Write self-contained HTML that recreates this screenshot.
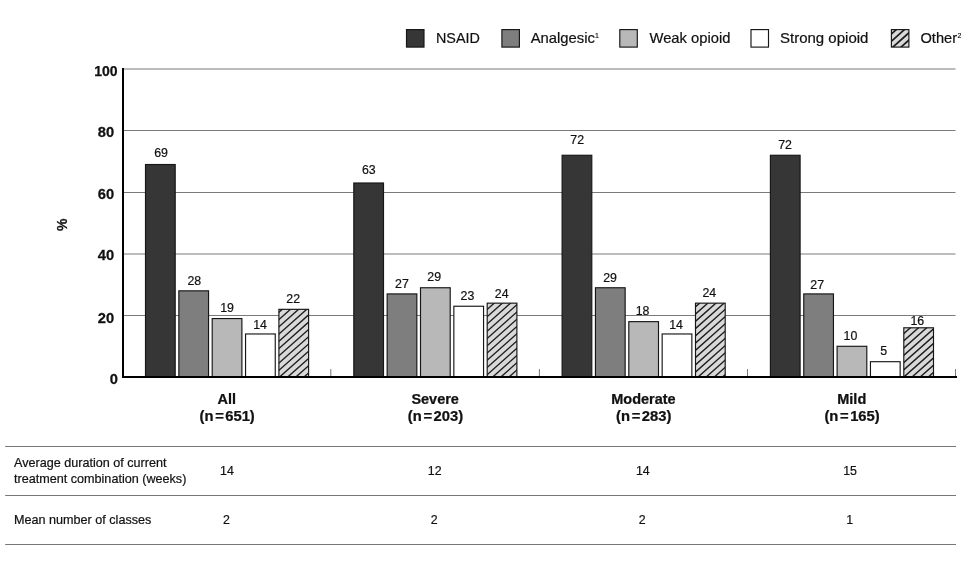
<!DOCTYPE html>
<html lang="en"><head><meta charset="utf-8"><title>Treatment by severity</title>
<style>
html,body{margin:0;padding:0;background:#fff;}
body{width:975px;height:574px;overflow:hidden;font-family:"Liberation Sans",sans-serif;}
svg{display:block}
text{font-family:"Liberation Sans",sans-serif;fill:#111}
.b{font-weight:bold;font-size:14px;stroke:#111;stroke-width:0.25px}
.v{font-size:12px;stroke:#111;stroke-width:0.2px}
.t{font-size:12px;stroke:#111;stroke-width:0.2px}
.l{font-size:14px;stroke:#111;stroke-width:0.2px}
.s{font-size:7px;stroke:#111;stroke-width:0.15px}
</style></head><body>
<svg width="975" height="574" viewBox="0 0 975 574">

<rect width="975" height="574" fill="#fff"/>

<line x1="123" x2="955.5" y1="315.5" y2="315.5" stroke="#7a7a7a" stroke-width="1"/>
<line x1="123" x2="955.5" y1="254.0" y2="254.0" stroke="#7a7a7a" stroke-width="1"/>
<line x1="123" x2="955.5" y1="192.5" y2="192.5" stroke="#7a7a7a" stroke-width="1"/>
<line x1="123" x2="955.5" y1="130.5" y2="130.5" stroke="#7a7a7a" stroke-width="1"/>
<line x1="123" x2="955.5" y1="69.0" y2="69.0" stroke="#7a7a7a" stroke-width="1"/>
<line x1="330.8" x2="330.8" y1="369" y2="376" stroke="#555" stroke-width="0.8"/>
<line x1="539.4" x2="539.4" y1="369" y2="376" stroke="#555" stroke-width="0.8"/>
<line x1="747.5" x2="747.5" y1="369" y2="376" stroke="#555" stroke-width="0.8"/>
<line x1="955.5" x2="955.5" y1="369" y2="376" stroke="#555" stroke-width="0.8"/>
<rect x="145.50" y="164.51" width="29.70" height="212.59" fill="#363636" stroke="#161616" stroke-width="1.15"/>
<text class="v" text-anchor="middle" transform="translate(161.00,157.40) scale(1.03,1)">69</text>
<rect x="178.85" y="290.83" width="29.70" height="86.27" fill="#7e7e7e" stroke="#161616" stroke-width="1.15"/>
<text class="v" text-anchor="middle" transform="translate(194.25,284.80) scale(1.03,1)">28</text>
<rect x="212.20" y="318.56" width="29.70" height="58.54" fill="#b8b8b8" stroke="#161616" stroke-width="1.15"/>
<text class="v" text-anchor="middle" transform="translate(227.00,312.10) scale(1.03,1)">19</text>
<rect x="245.55" y="333.97" width="29.70" height="43.13" fill="#ffffff" stroke="#161616" stroke-width="1.15"/>
<text class="v" text-anchor="middle" transform="translate(260.10,328.50) scale(1.03,1)">14</text>
<clipPath id="c1"><rect x="278.90" y="309.32" width="29.70" height="67.78"/></clipPath>
<rect x="278.90" y="309.32" width="29.70" height="67.78" fill="#d9d9d9"/>
<path clip-path="url(#c1)" d="M268.44,307.14L187.36,379.28M276.59,307.14L195.51,379.28M284.74,307.14L203.66,379.28M292.89,307.14L211.81,379.28M301.04,307.14L219.96,379.28M309.19,307.14L228.11,379.28M317.34,307.14L236.26,379.28M325.49,307.14L244.41,379.28M333.64,307.14L252.56,379.28M341.79,307.14L260.71,379.28M349.94,307.14L268.86,379.28M358.09,307.14L277.01,379.28M366.24,307.14L285.16,379.28M374.39,307.14L293.31,379.28M382.54,307.14L301.46,379.28M390.69,307.14L309.61,379.28M398.84,307.14L317.76,379.28" stroke="#1e1e1e" stroke-width="1.4" fill="none"/>
<rect x="278.90" y="309.32" width="29.70" height="67.78" fill="none" stroke="#161616" stroke-width="1.15"/>
<text class="v" text-anchor="middle" transform="translate(293.20,302.70) scale(1.03,1)">22</text>
<text class="b" text-anchor="middle" transform="translate(226.85,404.00) scale(1.035,1)">All</text>
<text class="b" text-anchor="middle" transform="translate(227.15,421.10) scale(1.055,1)">(n<tspan dx="1.6">=</tspan><tspan dx="1.4">651)</tspan></text>
<text class="t" text-anchor="middle" transform="translate(226.90,474.80) scale(1.03,1)">14</text>
<text class="t" text-anchor="middle" transform="translate(226.50,524.10) scale(1.03,1)">2</text>
<rect x="353.80" y="183.00" width="29.70" height="194.10" fill="#363636" stroke="#161616" stroke-width="1.15"/>
<text class="v" text-anchor="middle" transform="translate(368.80,173.70) scale(1.03,1)">63</text>
<rect x="387.15" y="293.91" width="29.70" height="83.19" fill="#7e7e7e" stroke="#161616" stroke-width="1.15"/>
<text class="v" text-anchor="middle" transform="translate(401.90,287.50) scale(1.03,1)">27</text>
<rect x="420.50" y="287.75" width="29.70" height="89.35" fill="#b8b8b8" stroke="#161616" stroke-width="1.15"/>
<text class="v" text-anchor="middle" transform="translate(434.20,280.70) scale(1.03,1)">29</text>
<rect x="453.85" y="306.24" width="29.70" height="70.86" fill="#ffffff" stroke="#161616" stroke-width="1.15"/>
<text class="v" text-anchor="middle" transform="translate(467.40,300.10) scale(1.03,1)">23</text>
<clipPath id="c2"><rect x="487.20" y="303.16" width="29.70" height="73.94"/></clipPath>
<rect x="487.20" y="303.16" width="29.70" height="73.94" fill="#d9d9d9"/>
<path clip-path="url(#c2)" d="M480.35,300.98L392.33,379.28M488.50,300.98L400.48,379.28M496.65,300.98L408.63,379.28M504.80,300.98L416.78,379.28M512.95,300.98L424.93,379.28M521.10,300.98L433.08,379.28M529.25,300.98L441.23,379.28M537.40,300.98L449.38,379.28M545.55,300.98L457.53,379.28M553.70,300.98L465.68,379.28M561.85,300.98L473.83,379.28M570.00,300.98L481.98,379.28M578.15,300.98L490.13,379.28M586.30,300.98L498.28,379.28M594.45,300.98L506.43,379.28M602.60,300.98L514.58,379.28M610.75,300.98L522.73,379.28" stroke="#1e1e1e" stroke-width="1.4" fill="none"/>
<rect x="487.20" y="303.16" width="29.70" height="73.94" fill="none" stroke="#161616" stroke-width="1.15"/>
<text class="v" text-anchor="middle" transform="translate(501.65,297.90) scale(1.03,1)">24</text>
<text class="b" text-anchor="middle" transform="translate(435.15,404.00) scale(1.035,1)">Severe</text>
<text class="b" text-anchor="middle" transform="translate(435.45,421.10) scale(1.055,1)">(n<tspan dx="1.6">=</tspan><tspan dx="1.4">203)</tspan></text>
<text class="t" text-anchor="middle" transform="translate(434.65,474.80) scale(1.03,1)">12</text>
<text class="t" text-anchor="middle" transform="translate(434.20,524.10) scale(1.03,1)">2</text>
<rect x="562.10" y="155.27" width="29.70" height="221.83" fill="#363636" stroke="#161616" stroke-width="1.15"/>
<text class="v" text-anchor="middle" transform="translate(577.20,143.70) scale(1.03,1)">72</text>
<rect x="595.45" y="287.75" width="29.70" height="89.35" fill="#7e7e7e" stroke="#161616" stroke-width="1.15"/>
<text class="v" text-anchor="middle" transform="translate(610.00,281.60) scale(1.03,1)">29</text>
<rect x="628.80" y="321.64" width="29.70" height="55.46" fill="#b8b8b8" stroke="#161616" stroke-width="1.15"/>
<text class="v" text-anchor="middle" transform="translate(642.50,314.90) scale(1.03,1)">18</text>
<rect x="662.15" y="333.97" width="29.70" height="43.13" fill="#ffffff" stroke="#161616" stroke-width="1.15"/>
<text class="v" text-anchor="middle" transform="translate(676.10,328.50) scale(1.03,1)">14</text>
<clipPath id="c3"><rect x="695.50" y="303.16" width="29.70" height="73.94"/></clipPath>
<rect x="695.50" y="303.16" width="29.70" height="73.94" fill="#d9d9d9"/>
<path clip-path="url(#c3)" d="M685.75,300.98L597.73,379.28M693.90,300.98L605.88,379.28M702.05,300.98L614.03,379.28M710.20,300.98L622.18,379.28M718.35,300.98L630.33,379.28M726.50,300.98L638.48,379.28M734.65,300.98L646.63,379.28M742.80,300.98L654.78,379.28M750.95,300.98L662.93,379.28M759.10,300.98L671.08,379.28M767.25,300.98L679.23,379.28M775.40,300.98L687.38,379.28M783.55,300.98L695.53,379.28M791.70,300.98L703.68,379.28M799.85,300.98L711.83,379.28M808.00,300.98L719.98,379.28M816.15,300.98L728.13,379.28M824.30,300.98L736.28,379.28" stroke="#1e1e1e" stroke-width="1.4" fill="none"/>
<rect x="695.50" y="303.16" width="29.70" height="73.94" fill="none" stroke="#161616" stroke-width="1.15"/>
<text class="v" text-anchor="middle" transform="translate(709.30,296.80) scale(1.03,1)">24</text>
<text class="b" text-anchor="middle" transform="translate(643.45,404.00) scale(1.035,1)">Moderate</text>
<text class="b" text-anchor="middle" transform="translate(643.75,421.10) scale(1.055,1)">(n<tspan dx="1.6">=</tspan><tspan dx="1.4">283)</tspan></text>
<text class="t" text-anchor="middle" transform="translate(642.85,474.80) scale(1.03,1)">14</text>
<text class="t" text-anchor="middle" transform="translate(642.20,524.10) scale(1.03,1)">2</text>
<rect x="770.40" y="155.27" width="29.70" height="221.83" fill="#363636" stroke="#161616" stroke-width="1.15"/>
<text class="v" text-anchor="middle" transform="translate(785.10,148.70) scale(1.03,1)">72</text>
<rect x="803.75" y="293.91" width="29.70" height="83.19" fill="#7e7e7e" stroke="#161616" stroke-width="1.15"/>
<text class="v" text-anchor="middle" transform="translate(817.20,288.60) scale(1.03,1)">27</text>
<rect x="837.10" y="346.29" width="29.70" height="30.81" fill="#b8b8b8" stroke="#161616" stroke-width="1.15"/>
<text class="v" text-anchor="middle" transform="translate(850.40,340.30) scale(1.03,1)">10</text>
<rect x="870.45" y="361.70" width="29.70" height="15.40" fill="#ffffff" stroke="#161616" stroke-width="1.15"/>
<text class="v" text-anchor="middle" transform="translate(883.60,355.30) scale(1.03,1)">5</text>
<clipPath id="c4"><rect x="903.80" y="327.80" width="29.70" height="49.30"/></clipPath>
<rect x="903.80" y="327.80" width="29.70" height="49.30" fill="#d9d9d9"/>
<path clip-path="url(#c4)" d="M896.45,325.63L836.14,379.28M904.60,325.63L844.29,379.28M912.75,325.63L852.44,379.28M920.90,325.63L860.59,379.28M929.05,325.63L868.74,379.28M937.20,325.63L876.89,379.28M945.35,325.63L885.04,379.28M953.50,325.63L893.19,379.28M961.65,325.63L901.34,379.28M969.80,325.63L909.49,379.28M977.95,325.63L917.64,379.28M986.10,325.63L925.79,379.28M994.25,325.63L933.94,379.28M1002.40,325.63L942.09,379.28" stroke="#1e1e1e" stroke-width="1.4" fill="none"/>
<rect x="903.80" y="327.80" width="29.70" height="49.30" fill="none" stroke="#161616" stroke-width="1.15"/>
<text class="v" text-anchor="middle" transform="translate(917.30,325.20) scale(1.03,1)">16</text>
<text class="b" text-anchor="middle" transform="translate(851.75,404.00) scale(1.035,1)">Mild</text>
<text class="b" text-anchor="middle" transform="translate(852.05,421.10) scale(1.055,1)">(n<tspan dx="1.6">=</tspan><tspan dx="1.4">165)</tspan></text>
<text class="t" text-anchor="middle" transform="translate(850.05,474.80) scale(1.03,1)">15</text>
<text class="t" text-anchor="middle" transform="translate(849.70,524.10) scale(1.03,1)">1</text>
<rect x="122" y="68" width="2" height="310" fill="#000"/>
<rect x="122" y="376" width="835" height="2" fill="#000"/>
<text class="b" text-anchor="end" transform="translate(117.60,75.90) scale(1.0,1)">100</text>
<text class="b" text-anchor="end" transform="translate(114.20,137.30) scale(1.05,1)">80</text>
<text class="b" text-anchor="end" transform="translate(114.20,199.00) scale(1.05,1)">60</text>
<text class="b" text-anchor="end" transform="translate(114.20,260.40) scale(1.05,1)">40</text>
<text class="b" text-anchor="end" transform="translate(114.20,322.50) scale(1.05,1)">20</text>
<text class="b" text-anchor="end" transform="translate(117.90,383.80) scale(1.05,1)">0</text>
<text class="b" text-anchor="middle" transform="translate(66.9,224.9) rotate(-90) scale(1,1.07)">%</text>
<rect x="406.5" y="29.6" width="17.5" height="17.5" fill="#363636" stroke="#161616" stroke-width="1.15"/>
<text class="l" transform="translate(436.00,43.10) scale(1.025,1)">NSAID</text>
<rect x="501.9" y="29.6" width="17.5" height="17.5" fill="#7e7e7e" stroke="#161616" stroke-width="1.15"/>
<text class="l" transform="translate(530.70,43.10) scale(1.06,1)">Analgesic</text>
<text class="s" transform="translate(595.00,37.70) scale(1.0,1)">1</text>
<rect x="619.8" y="29.6" width="17.5" height="17.5" fill="#b8b8b8" stroke="#161616" stroke-width="1.15"/>
<text class="l" transform="translate(649.50,43.10) scale(1.055,1)">Weak opioid</text>
<rect x="751.0" y="29.6" width="17.5" height="17.5" fill="#fff" stroke="#161616" stroke-width="1.15"/>
<text class="l" transform="translate(780.00,43.10) scale(1.073,1)">Strong opioid</text>
<clipPath id="c5"><rect x="891.40" y="29.60" width="17.50" height="17.50"/></clipPath>
<rect x="891.40" y="29.60" width="17.50" height="17.50" fill="#d9d9d9"/>
<path clip-path="url(#c5)" d="M882.39,27.43L857.83,49.27M890.54,27.43L865.98,49.27M898.69,27.43L874.13,49.27M906.84,27.43L882.28,49.27M914.99,27.43L890.43,49.27M923.14,27.43L898.58,49.27M931.29,27.43L906.73,49.27M939.44,27.43L914.88,49.27" stroke="#1e1e1e" stroke-width="1.7" fill="none"/>
<rect x="891.4" y="29.6" width="17.5" height="17.5" fill="none" stroke="#161616" stroke-width="1.15"/>
<text class="l" transform="translate(920.50,43.10) scale(1.045,1)">Other</text>
<text class="s" transform="translate(957.50,37.70) scale(1.0,1)">2</text>
<line x1="5.2" x2="956" y1="446.5" y2="446.5" stroke="#777" stroke-width="1"/>
<line x1="5.2" x2="956" y1="495.5" y2="495.5" stroke="#777" stroke-width="1"/>
<line x1="5.2" x2="956" y1="544.5" y2="544.5" stroke="#777" stroke-width="1"/>
<text class="t" transform="translate(14.00,467.40) scale(1.052,1)">Average duration of current</text>
<text class="t" transform="translate(14.00,482.50) scale(1.052,1)">treatment combination (weeks)</text>
<text class="t" transform="translate(14.00,523.60) scale(1.052,1)">Mean number of classes</text>
</svg></body></html>
